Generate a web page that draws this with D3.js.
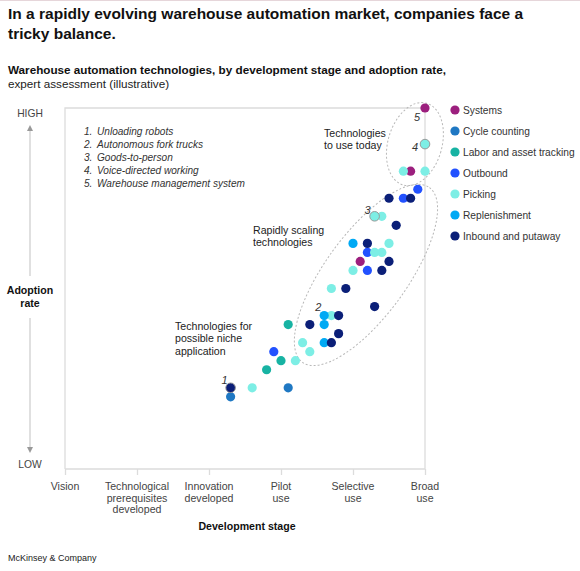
<!DOCTYPE html>
<html><head><meta charset="utf-8">
<script src="https://cdn.jsdelivr.net/npm/d3@7"></script>
<style>
body{margin:0;background:#fff;}
svg{font-family:"Liberation Sans",Arial,sans-serif;}
</style></head>
<body>
<svg id="c" width="580" height="571"></svg>
<script>
// ---- data ----
const stages = ["Vision","Technological\nprerequisites\ndeveloped","Innovation\ndeveloped","Pilot\nuse","Selective\nuse","Broad\nuse"];
const categories = ["Systems","Cycle counting","Labor and asset tracking","Outbound","Picking","Replenishment","Inbound and putaway"];
const colors = ["#9c1f7e","#1f78c3","#17b3a3","#2251ff","#7deee5","#00a9f4","#0b1f78"];
// [stage position, adoption level]
const systems = [[5.0,40],[4.8,33],[4.1,23]];
const cycleCounting = [[2.3,8],[3.1,9]];
const laborTracking = [[3.1,16],[3.0,12],[2.8,11]];
const outbound = [[4.9,31],[4.7,30],[4.2,24],[4.2,22],[2.9,13]];
const picking = [[5.0,36],[4.7,33],[5.0,33],[4.3,28],[4.4,28],[4.5,25],[4.3,24],[4.4,24],[4.0,22],[3.7,20],[3.7,17],[3.3,14],[3.4,13],[3.2,12],[2.6,9]];
const replenishment = [[4.0,25],[3.6,17],[3.6,16],[3.6,14]];
const inbound = [[4.5,30],[4.8,30],[4.6,27],[4.2,25],[4.5,23],[4.4,22],[3.9,20],[4.3,18],[3.8,17],[3.4,16],[3.8,15],[3.7,14],[2.3,9]];
const seriesValues = [systems,cycleCounting,laborTracking,outbound,picking,replenishment,inbound];
const notes = ["Unloading robots","Autonomous fork trucks","Goods-to-person","Voice-directed working","Warehouse management system"];
// numbered technologies: [series index, point index]
const numbered = [[6,12],[5,1],[4,3],[4,0],[0,0]];
const yLabels = ["LOW","HIGH"];

// ---- layout ----
const svg = d3.select("#c");
const x = d3.scaleLinear().domain([0,5]).range([65,425]);
const y = d3.scaleLinear().domain([0,40]).range([469,108]);

svg.append("line").attr("x1",0).attr("x2",580).attr("y1",0.5).attr("y2",0.5).attr("stroke","#e6d6da");

// titles
const title = svg.append("text").attr("x",8).attr("font-weight","bold").attr("font-size",15.5).attr("fill","#111");
title.append("tspan").attr("x",8).attr("y",19).text("In a rapidly evolving warehouse automation market, companies face a");
title.append("tspan").attr("x",8).attr("y",39).text("tricky balance.");
svg.append("text").attr("x",8).attr("y",74).attr("font-weight","bold").attr("font-size",11.7).attr("fill","#111")
  .text("Warehouse automation technologies, by development stage and adoption rate,");
svg.append("text").attr("x",8).attr("y",88).attr("font-size",11.7).attr("fill","#222")
  .text("expert assessment (illustrative)");

// plot frame
const frame = "#dcdcdc";
svg.append("path").attr("d",`M${x(0)},${y(0)}V${y(40)}H${x(5)}V${y(0)}H${x(0)}`)
  .attr("fill","none").attr("stroke",frame).attr("stroke-width",1.3);

// x axis
const xAxis = d3.axisBottom(x).tickValues(d3.range(6)).tickSize(6).tickFormat("");
const gx = svg.append("g").attr("transform",`translate(0,${y(0)})`).call(xAxis);
gx.select(".domain").remove();
gx.selectAll(".tick line").attr("stroke",frame).attr("stroke-width",1.3);
stages.forEach((s,i)=>{
  const t = svg.append("text").attr("text-anchor","middle").attr("font-size",10.6).attr("fill","#444");
  s.split("\n").forEach((l,j)=>t.append("tspan").attr("x",x(i)).attr("y",490+j*11.7).text(l));
});
svg.append("text").attr("x",247).attr("y",530).attr("text-anchor","middle").attr("font-weight","bold")
  .attr("font-size",10.6).attr("fill","#111").text("Development stage");

// y axis arrow
const ax = 30, axc = "#cfcfcf";
svg.append("line").attr("x1",ax).attr("x2",ax).attr("y1",128).attr("y2",276).attr("stroke",axc).attr("stroke-width",1.3);
svg.append("line").attr("x1",ax).attr("x2",ax).attr("y1",318).attr("y2",450).attr("stroke",axc).attr("stroke-width",1.3);
svg.append("path").attr("d",`M${ax-3},${131}L${ax},${125}L${ax+3},${131}Z`).attr("fill","#999");
svg.append("path").attr("d",`M${ax-3},${447}L${ax},${453}L${ax+3},${447}Z`).attr("fill","#999");
svg.append("text").attr("x",ax).attr("y",117).attr("text-anchor","middle").attr("font-size",10.3).attr("fill","#444").text(yLabels[1]);
svg.append("text").attr("x",ax).attr("y",468).attr("text-anchor","middle").attr("font-size",10.3).attr("fill","#444").text(yLabels[0]);
const yl = svg.append("text").attr("text-anchor","middle").attr("font-weight","bold").attr("font-size",10.6).attr("fill","#111");
yl.append("tspan").attr("x",ax).attr("y",294).text("Adoption");
yl.append("tspan").attr("x",ax).attr("y",307).text("rate");

// notes
notes.forEach((n,i)=>{
  const t = svg.append("text").attr("y",135+i*13.1).attr("font-size",10.1).attr("font-style","italic").attr("fill","#333");
  t.append("tspan").attr("x",84).text((i+1)+".");
  t.append("tspan").attr("x",97).text(n);
});

// ellipses
const ell = (cx,cy,rx,ry,rot)=>svg.append("ellipse").attr("cx",0).attr("cy",0).attr("rx",rx).attr("ry",ry)
  .attr("transform",`translate(${x(cx)},${y(cy)}) rotate(${rot})`)
  .attr("fill","none").attr("stroke","#b8b8b8").attr("stroke-width",1).attr("stroke-dasharray","2,2");
ell(4.86,36,27,42.5,16);
ell(4.18,21.5,108,41,-54);

// group labels
const multi = (lines,x0,y0)=>{
  const t = svg.append("text").attr("font-size",10.6).attr("fill","#222");
  lines.forEach((l,j)=>t.append("tspan").attr("x",x0).attr("y",y0+j*12.3).text(l));
};
multi(["Technologies","to use today"],324,137);
multi(["Rapidly scaling","technologies"],253,234);
multi(["Technologies for","possible niche","application"],175,330);

// points
seriesValues.forEach((arr,si)=>{
  svg.append("g").selectAll("circle").data(arr).join("circle")
    .attr("cx",d=>x(d[0])).attr("cy",d=>y(d[1])).attr("r",4.6)
    .attr("fill",colors[si]);
});
// highlighted numbered points
const offs = [[-6,-4],[-6,-5],[-7,-2],[-10,7],[-8,13]];
numbered.forEach(([si,pi],k)=>{
  const d = seriesValues[si][pi];
  if(k!==1 && k!==4){
    svg.append("circle").attr("cx",x(d[0])).attr("cy",y(d[1])).attr("r",4.8)
      .attr("fill",colors[si]).attr("stroke","#9a9a9a").attr("stroke-width",1);
  }
  svg.append("text").attr("x",x(d[0])+offs[k][0]).attr("y",y(d[1])+offs[k][1])
    .attr("text-anchor","middle").attr("font-size",11).attr("font-style","italic").attr("fill","#333").text(k+1);
});

// legend
categories.forEach((c,i)=>{
  const ly = 110+i*21;
  svg.append("circle").attr("cx",455).attr("cy",ly).attr("r",4.6).attr("fill",colors[i]);
  svg.append("text").attr("x",463).attr("y",ly+3.8).attr("font-size",10.2).attr("fill","#333").text(c);
});

svg.append("text").attr("x",8).attr("y",561).attr("font-size",9).attr("fill","#222").text("McKinsey & Company");
</script>
</body></html>
